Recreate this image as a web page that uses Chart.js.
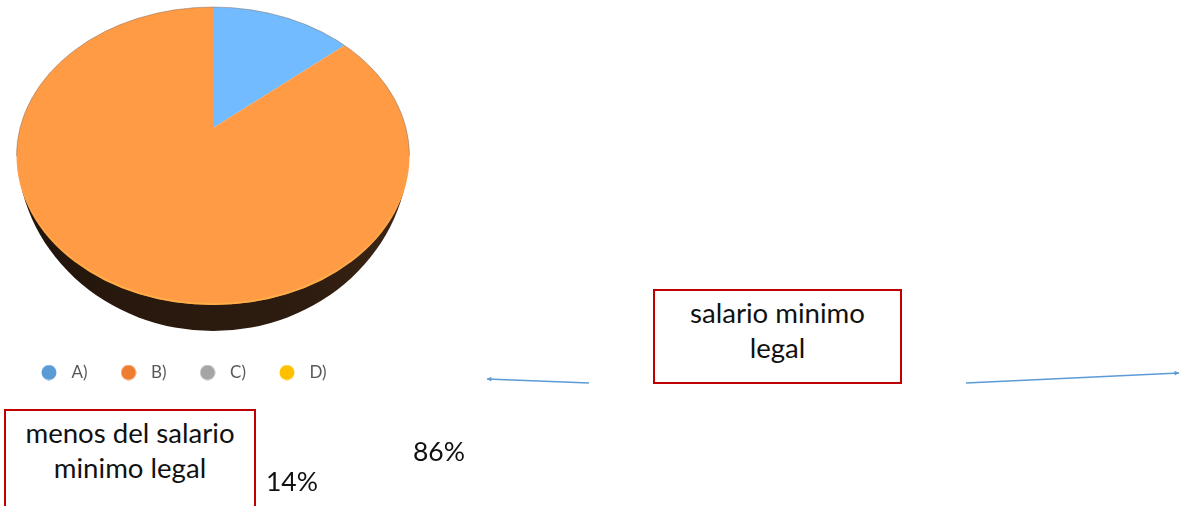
<!DOCTYPE html>
<html lang="es">
<head>
<meta charset="utf-8">
<title>Salario minimo</title>
<script src="https://cdn.jsdelivr.net/npm/chart.js@4"></script>
<style>
  html, body { margin: 0; padding: 0; background: #fff; overflow: hidden; }
  #wrap { position: relative; width: 1179px; height: 506px; font-family: Lato, "Open Sans", sans-serif; color: #111; }
  canvas { position: absolute; left: 0; top: 0; }
  .box { position: absolute; box-sizing: border-box; border: 2px solid #c00000; background: #fff; text-align: center; font-size: 27.6px; line-height: 34.5px; }
  .pct { position: absolute; font-size: 26.5px; line-height: 34px; }
</style>
</head>
<body>
<div id="wrap">
  <canvas id="pie" width="1179" height="506"></canvas>
  <div class="box" style="left:653px;top:289px;width:249px;height:95px;padding-top:5px">salario minimo<br>legal</div>
  <div class="box" style="left:4px;top:409px;width:252px;height:110px;padding-top:5px">menos del salario<br>minimo legal</div>
  <div class="pct" id="pct-a" style="left:266px;top:464px"></div>
  <div class="pct" id="pct-b" style="left:413px;top:434px"></div>
</div>
<script>
// Data
const categories = ['A)', 'B)', 'C)', 'D)'];
const values = [14, 86, 0, 0];

const sliceColors = ['#72bbff', '#ff9a45', '#a5a5a5', '#ffc000'];
const legendColors = ['#5b9bd5', '#ed7d31', '#a5a5a5', '#ffc000'];

document.getElementById('pct-a').textContent = values[0] + '%';
document.getElementById('pct-b').textContent = values[1] + '%';

// Top face of the tilted pie
const face = { x: 213, y: 156, rx: 196.5, ry: 149 };
const apex = { x: 213, y: 128 };
const tilt = face.ry / face.rx;

function legendDot(color) {
  const dot = document.createElement('canvas');
  dot.width = 16;
  dot.height = 16;
  const c = dot.getContext('2d');
  c.fillStyle = color;
  c.beginPath();
  c.arc(8, 8, 7.5, 0, Math.PI * 2);
  c.fill();
  return dot;
}

function arrow(ctx, x1, y1, x2, y2) {
  const a = Math.atan2(y2 - y1, x2 - x1);
  ctx.strokeStyle = ctx.fillStyle = '#5b9bd5';
  ctx.lineWidth = 1.5;
  ctx.beginPath();
  ctx.moveTo(x1, y1);
  ctx.lineTo(x2, y2);
  ctx.stroke();
  ctx.beginPath();
  ctx.moveTo(x2, y2);
  ctx.lineTo(x2 - 5 * Math.cos(a - 0.5), y2 - 5 * Math.sin(a - 0.5));
  ctx.lineTo(x2 - 5 * Math.cos(a + 0.5), y2 - 5 * Math.sin(a + 0.5));
  ctx.closePath();
  ctx.fill();
}

// Squashes the library's arcs into the tilted face and draws the side wall and rim
const tiltPlugin = {
  id: 'tilt',
  afterLayout(chart) {
    // legend sits under the pie, not centred on the page
    const lg = chart.legend;
    lg.left = 8;
    lg.right = 500;
    lg.top = 337;
    lg.bottom = 400;
  },
  beforeDatasetsDraw(chart) {
    const ctx = chart.ctx;
    const arc = chart.getDatasetMeta(0).data[0];

    // side wall
    const wall = ctx.createLinearGradient(face.x - face.rx, 0, face.x + face.rx, 0);
    wall.addColorStop(0, '#20140b');
    wall.addColorStop(0.25, '#28180d');
    wall.addColorStop(0.75, '#2e1c10');
    wall.addColorStop(1, '#3d2716');
    ctx.save();
    ctx.beginPath();
    ctx.rect(0, face.y, 430, 200);
    ctx.clip();
    ctx.fillStyle = wall;
    ctx.beginPath();
    ctx.ellipse(face.x, 149, 196, 182, 0, 0, Math.PI * 2);
    ctx.fill();
    ctx.restore();

    ctx.save();
    ctx.beginPath();
    ctx.ellipse(face.x, face.y, face.rx, face.ry, 0, 0, Math.PI * 2);
    ctx.clip();
    const k = 245 / arc.outerRadius;
    ctx.translate(apex.x, apex.y);
    ctx.scale(k, k * tilt);
    ctx.translate(-arc.x, -arc.y);
  },
  afterDatasetsDraw(chart) {
    const ctx = chart.ctx;
    ctx.restore();

    // lit rim of the face
    const rim = ctx.createLinearGradient(0, face.y, 0, face.y + face.ry);
    rim.addColorStop(0, 'rgba(255,178,74,0)');
    rim.addColorStop(1, 'rgba(255,178,74,0.9)');
    ctx.strokeStyle = rim;
    ctx.lineWidth = 2;
    ctx.beginPath();
    ctx.ellipse(face.x, face.y, face.rx - 1, face.ry - 1, 0, 0, Math.PI);
    ctx.stroke();

    // faint grey edge round the upper half
    ctx.strokeStyle = 'rgba(120,105,95,0.45)';
    ctx.lineWidth = 1;
    ctx.beginPath();
    ctx.ellipse(face.x, face.y, face.rx, face.ry, 0, Math.PI, Math.PI * 2);
    ctx.stroke();
  },
  afterDraw(chart) {
    const ctx = chart.ctx;
    arrow(ctx, 589, 383, 487, 379);
    arrow(ctx, 966, 383, 1179, 373);
  }
};

new Chart(document.getElementById('pie'), {
  type: 'pie',
  data: {
    labels: categories,
    datasets: [{
      data: values,
      backgroundColor: sliceColors,
      borderWidth: 0,
      clip: false
    }]
  },
  options: {
    responsive: false,
    animation: false,
    plugins: {
      tooltip: { enabled: false },
      legend: {
        position: 'bottom',
        align: 'start',
        labels: {
          color: '#595959',
          font: { family: 'Lato', size: 17 },
          usePointStyle: true,
          pointStyleWidth: 28,
          padding: 27,
          generateLabels: () => categories.map((label, i) => ({
            text: label,
            index: i,
            fontColor: '#595959',
            fillStyle: legendColors[i],
            strokeStyle: legendColors[i],
            lineWidth: 0,
            pointStyle: legendDot(legendColors[i])
          }))
        }
      }
    }
  },
  plugins: [tiltPlugin]
});
</script>
</body>
</html>
